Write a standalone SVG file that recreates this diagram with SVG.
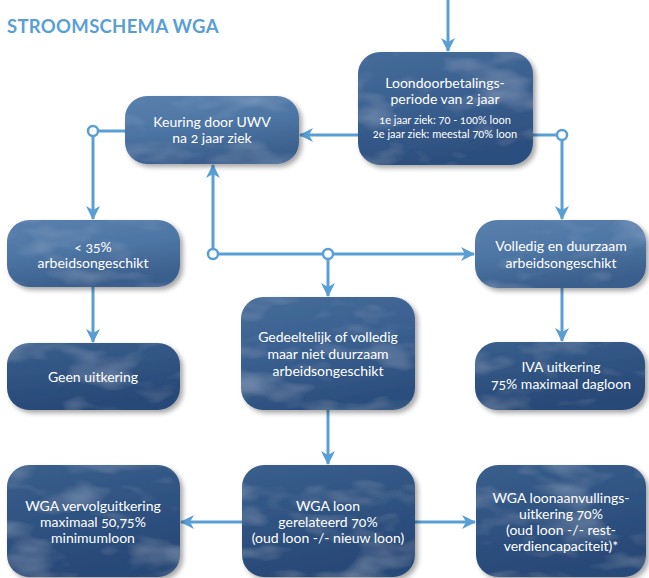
<svg xmlns="http://www.w3.org/2000/svg" width="649" height="578" viewBox="0 0 649 578">
<style>
.t{font-family:Lato,"Noto Sans",sans-serif;font-size:14px;fill:#ffffff;text-anchor:middle;font-variant-numeric:oldstyle-nums}
.s{font-size:11px}
.title{font-family:Lato,"Noto Sans",sans-serif;font-weight:bold;font-size:18.5px;fill:#5a9fd3;letter-spacing:0.3px}
.c{fill:none;stroke:#5a9fd3;stroke-width:3}
.a{marker-end:url(#arr)}
.o{fill:#ffffff;stroke:#5a9fd3;stroke-width:2.5}
.nl{fill:url(#gl);filter:url(#sh)}
.nm{fill:url(#gm);filter:url(#sh)}
.nd{fill:url(#gd);filter:url(#sh)}
</style>
<defs>
<linearGradient id="gl" x1="0" y1="0" x2="0.3" y2="1">
<stop offset="0" stop-color="#5a80ad"/><stop offset="0.5" stop-color="#4e76a4"/><stop offset="1" stop-color="#3b5f8d"/>
</linearGradient>
<linearGradient id="gm" x1="0" y1="0" x2="0.3" y2="1">
<stop offset="0" stop-color="#466c99"/><stop offset="0.5" stop-color="#3a6090"/><stop offset="1" stop-color="#2c4f7e"/>
</linearGradient>
<linearGradient id="gd" x1="0" y1="0" x2="0.3" y2="1">
<stop offset="0" stop-color="#3a5f8c"/><stop offset="0.5" stop-color="#2f5382"/><stop offset="1" stop-color="#284977"/>
</linearGradient>
<filter id="sh" x="-10%" y="-10%" width="125%" height="130%">
<feGaussianBlur in="SourceAlpha" stdDeviation="2.5"/>
<feOffset dx="3" dy="3"/>
<feComponentTransfer result="shadow"><feFuncA type="linear" slope="0.35"/></feComponentTransfer>
<feTurbulence type="fractalNoise" baseFrequency="0.015 0.035" numOctaves="3" seed="7" result="noise"/>
<feColorMatrix in="noise" type="matrix" values="0 0 0 0 0.5  0 0 0 0 0.66  0 0 0 0 0.85  0.6 0 0 0 -0.3" result="cloud"/>
<feComposite in="cloud" in2="SourceGraphic" operator="in" result="cloudIn"/>
<feMerge><feMergeNode in="shadow"/><feMergeNode in="SourceGraphic"/><feMergeNode in="cloudIn"/></feMerge>
</filter>
<marker id="arr" viewBox="0 0 14 14" refX="13" refY="7" markerWidth="14" markerHeight="14" markerUnits="userSpaceOnUse" orient="auto">
<path d="M0,0 L14,7 L0,14 L4,7 z" fill="#5a9fd3"/>
</marker>
</defs>
<text class="title" x="7" y="33">STROOMSCHEMA WGA</text>
<g id="connectors">
<path class="c a" d="M448,0 L448,51"/>
<path class="c a" d="M358,135 L300,135"/>
<path class="c" d="M533,135 L557,135"/>
<path class="c a" d="M562,140 L562,219"/>
<path class="c" d="M125,131 L98,131"/>
<path class="c a" d="M93,136 L93,219"/>
<path class="c a" d="M93,287 L93,342"/>
<path class="c a" d="M213,249 L213,165"/>
<path class="c" d="M218,254 L323,254"/>
<path class="c a" d="M333,254 L474,254"/>
<path class="c a" d="M328,259 L328,296"/>
<path class="c a" d="M328,410 L328,464"/>
<path class="c a" d="M242,522 L181,522"/>
<path class="c a" d="M415,522 L475,522"/>
<path class="c a" d="M562,288 L562,341"/>
<circle class="o" cx="562" cy="135" r="5"/>
<circle class="o" cx="93" cy="131" r="5"/>
<circle class="o" cx="213" cy="254" r="5"/>
<circle class="o" cx="328" cy="254" r="5"/>
</g>
<g id="loondoorbetaling">
<rect class="nm" x="358" y="52" width="175" height="113" rx="22"/>
<text class="t" x="445" y="88">Loondoorbetalings-</text>
<text class="t" x="445" y="104">periode van 2 jaar</text>
<text class="t s" x="445" y="124">1e jaar ziek: 70 - 100% loon</text>
<text class="t s" x="445" y="138">2e jaar ziek: meestal 70% loon</text>
</g>
<g id="keuring">
<rect class="nl" x="125" y="96" width="174" height="68" rx="22"/>
<text class="t" x="212" y="127">Keuring door UWV</text>
<text class="t" x="212" y="143">na 2 jaar ziek</text>
</g>
<g id="lt35">
<rect class="nl" x="7" y="220" width="173" height="67" rx="22"/>
<text class="t" x="93" y="252">&lt; 35%</text>
<text class="t" x="93" y="268">arbeidsongeschikt</text>
</g>
<g id="volledig">
<rect class="nl" x="475" y="220" width="171" height="68" rx="22"/>
<text class="t" x="561" y="251">Volledig en duurzaam</text>
<text class="t" x="561" y="268">arbeidsongeschikt</text>
</g>
<g id="geen">
<rect class="nd" x="7" y="343" width="173" height="67" rx="22"/>
<text class="t" x="93" y="382">Geen uitkering</text>
</g>
<g id="gedeeltelijk">
<rect class="nm" x="241" y="297" width="174" height="113" rx="22"/>
<text class="t" x="328" y="342">Gedeeltelijk of volledig</text>
<text class="t" x="328" y="359">maar niet duurzaam</text>
<text class="t" x="328" y="376">arbeidsongeschikt</text>
</g>
<g id="iva">
<rect class="nd" x="475" y="342" width="170" height="68" rx="22"/>
<text class="t" x="561" y="372">IVA uitkering</text>
<text class="t" x="561" y="389">75% maximaal dagloon</text>
</g>
<g id="vervolg">
<rect class="nd" x="7" y="465" width="173" height="112" rx="22"/>
<text class="t" x="93" y="511">WGA vervolguitkering</text>
<text class="t" x="93" y="527">maximaal 50,75%</text>
<text class="t" x="93" y="543">minimumloon</text>
</g>
<g id="wgaloon">
<rect class="nd" x="242" y="465" width="173" height="112" rx="22"/>
<text class="t" x="328" y="511">WGA loon</text>
<text class="t" x="328" y="527">gerelateerd 70%</text>
<text class="t" x="328" y="543">(oud loon -/- nieuw loon)</text>
</g>
<g id="loonaanvulling">
<rect class="nd" x="476" y="465" width="170" height="112" rx="22"/>
<text class="t" x="561" y="503">WGA loonaanvullings-</text>
<text class="t" x="561" y="519">uitkering 70%</text>
<text class="t" x="561" y="535">(oud loon -/- rest-</text>
<text class="t" x="561" y="551">verdiencapaciteit)*</text>
</g>
</svg>
